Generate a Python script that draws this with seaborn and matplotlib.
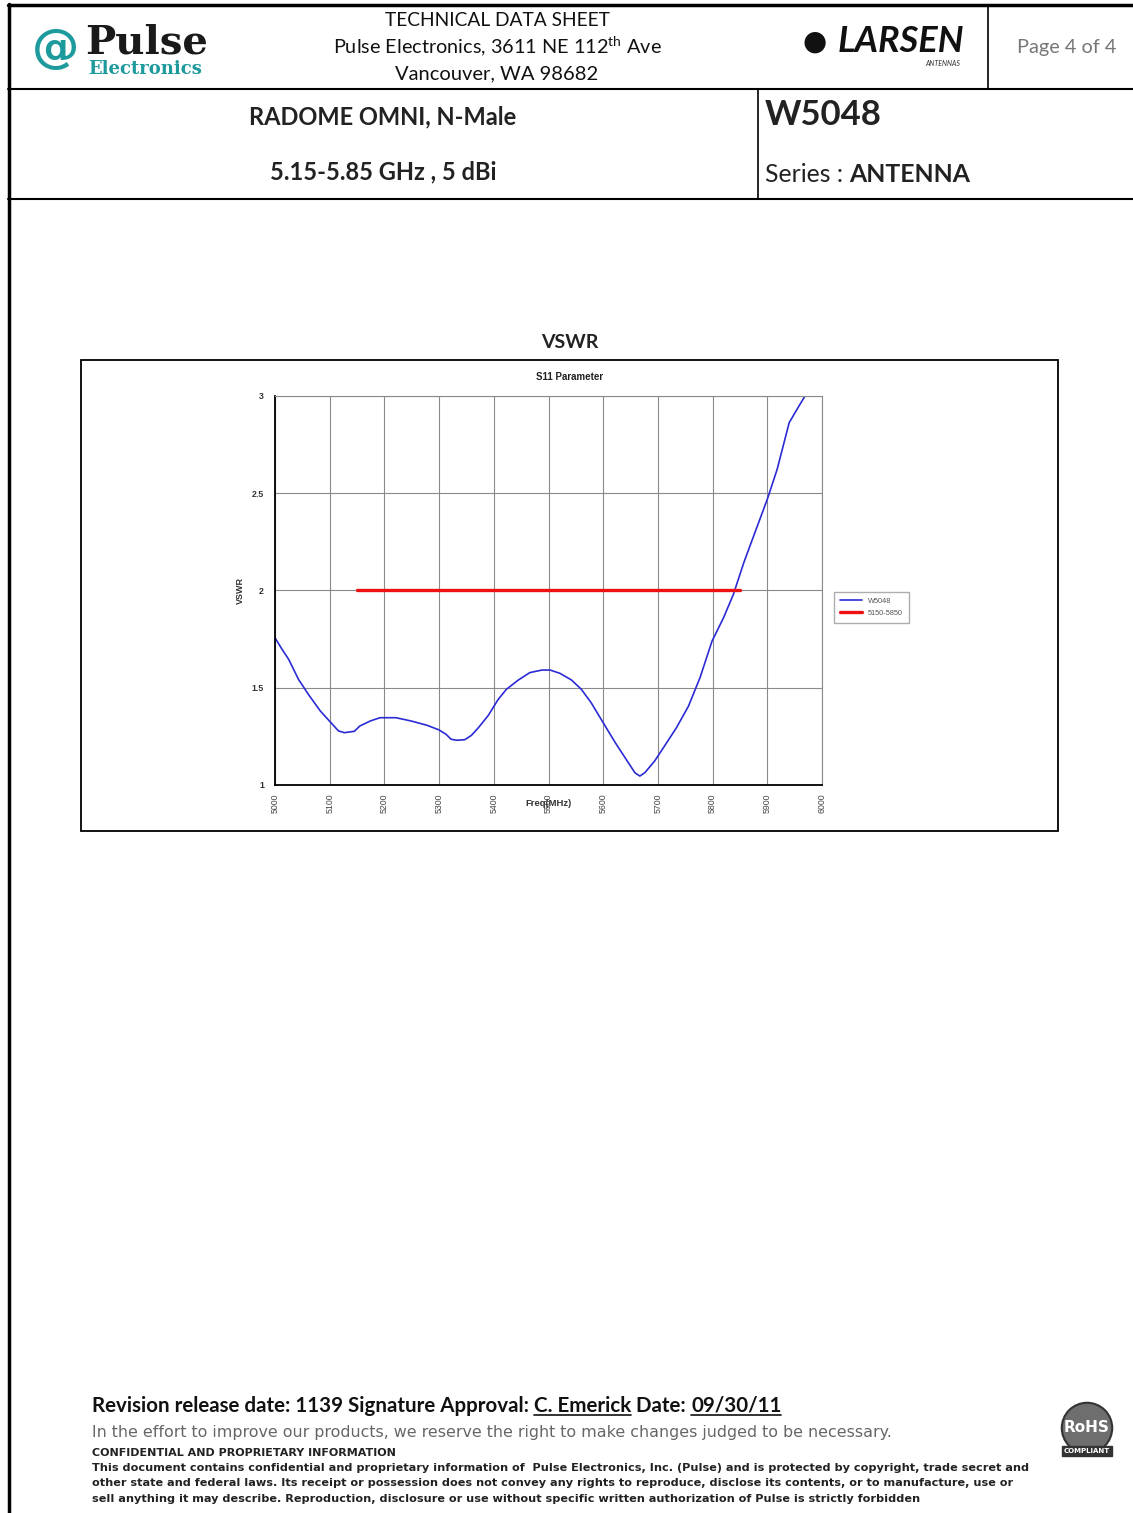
import matplotlib
matplotlib.use("Agg")
import matplotlib.pyplot as plt
import seaborn as sns
import numpy as np
import pandas as pd
from matplotlib.lines import Line2D
from matplotlib.patches import Rectangle

# ---------------- data ----------------
freq = [5000, 5011, 5025, 5043, 5061, 5083, 5105, 5116, 5127, 5145, 5155, 5174,
        5192, 5221, 5249, 5278, 5300, 5313, 5322, 5333, 5347, 5359, 5372, 5390,
        5408, 5423, 5445, 5466, 5488, 5503, 5521, 5542, 5560, 5578, 5600, 5622,
        5644, 5658, 5667, 5676, 5694, 5712, 5734, 5756, 5777, 5799, 5820, 5838,
        5857, 5875, 5900, 5918, 5940, 5958, 5969]
vswr = [1.757, 1.706, 1.646, 1.543, 1.466, 1.380, 1.312, 1.278, 1.269, 1.276, 1.303, 1.329,
        1.346, 1.346, 1.329, 1.307, 1.283, 1.260, 1.235, 1.230, 1.233, 1.255, 1.295, 1.358,
        1.440, 1.492, 1.540, 1.578, 1.591, 1.591, 1.574, 1.540, 1.492, 1.423, 1.320, 1.218,
        1.123, 1.063, 1.046, 1.063, 1.123, 1.200, 1.295, 1.406, 1.552, 1.740, 1.860, 1.980,
        2.143, 2.280, 2.469, 2.623, 2.863, 2.949, 3.0]
spec_freq = [5150, 5850]
spec_vswr = [2.0, 2.0]
series_names = ["W5048", "5150-5850"]
x_ticks = [5000, 5100, 5200, 5300, 5400, 5500, 5600, 5700, 5800, 5900, 6000]
y_ticks = [1, 1.5, 2, 2.5, 3]
y_ticklabels = ["1", "1.5", "2", "2.5", "3"]

# ---------------- style ----------------
sns.set_style("white")
plt.rcParams["font.family"] = ["Lato", "DejaVu Sans"]
plt.rcParams["mathtext.fontset"] = "custom"
plt.rcParams["mathtext.rm"] = "Lato"

W, H = 1133, 1513
fig = plt.figure(figsize=(W / 100, H / 100), dpi=100)
fig.patch.set_facecolor("white")
renderer = fig.canvas.get_renderer()


def fx(x):
    return x / W


def fy(y):
    return 1 - y / H


def hline(x0, x1, y, lw=1.5, c="black"):
    fig.add_artist(Line2D([fx(x0), fx(x1)], [fy(y), fy(y)], transform=fig.transFigure, lw=lw, color=c))


def vline(x, y0, y1, lw=1.5, c="black"):
    fig.add_artist(Line2D([fx(x), fx(x)], [fy(y0), fy(y1)], transform=fig.transFigure, lw=lw, color=c))


def seq_text(x, y, parts, va="baseline", **kw):
    xd = x
    for s, ul, extra in parts:
        opts = dict(kw)
        opts.update(extra)
        t = fig.text(fx(xd), fy(y), s, ha="left", va=va, **opts)
        bb = t.get_window_extent(renderer)
        if ul:
            hline(bb.x0, bb.x1, y + 3, lw=1.2, c="#111")
        xd = bb.x1


# ---------------- page frame / header ----------------
vline(9, 4, 1513, lw=2.5)
hline(8, 1133, 5, lw=2.5)
hline(8, 1133, 89, lw=1.5)
hline(8, 1133, 199, lw=1.5)
vline(988, 5, 89, lw=1.2)
vline(758, 89, 199, lw=1.2)

# Pulse logo
fig.text(fx(56), fy(50), "@", fontsize=34, color="#1c9a9c", fontweight="bold",
         ha="center", va="center", family="DejaVu Sans")
fig.text(fx(85), fy(42), "Pulse", fontsize=29, color="#1a1a1a", fontweight="bold",
         ha="left", va="center", family="DejaVu Serif")
fig.text(fx(88), fy(69), "Electronics", fontsize=13, color="#1c9a9c", fontweight="bold",
         ha="left", va="center", family="DejaVu Serif")

fig.text(fx(497), fy(20), "TECHNICAL DATA SHEET", fontsize=13.8, ha="center", va="center", color="#111")
fig.text(fx(497), fy(47), r"Pulse Electronics, 3611 NE 112$^{\mathrm{th}}$ Ave", fontsize=14.3,
         ha="center", va="center", color="#111")
fig.text(fx(497), fy(74), "Vancouver, WA 98682", fontsize=14.5, ha="center", va="center", color="#111")

# Larsen logo
fig.text(fx(815), fy(42), "●", fontsize=20, ha="center", va="center", color="#111", family="DejaVu Sans")
fig.text(fx(838), fy(42), "LARSEN", fontsize=26, ha="left", va="center", color="#111",
         fontweight="bold", style="italic")
fig.text(fx(960), fy(63), "ANTENNAS", fontsize=5, ha="right", va="center", color="#333", style="italic")

fig.text(fx(1067), fy(47), "Page 4 of 4", fontsize=14.3, ha="center", va="center", color="#777")

fig.text(fx(383), fy(117), "RADOME OMNI, N-Male", fontsize=17, ha="center", va="center", color="#222",
         fontweight="bold")
fig.text(fx(383), fy(172), "5.15-5.85 GHz , 5 dBi", fontsize=17, ha="center", va="center", color="#222",
         fontweight="bold")
fig.text(fx(765), fy(115), "W5048", fontsize=25, ha="left", va="center", color="#222", fontweight="bold")
seq_text(765, 182, [("Series : ", False, {}), ("ANTENNA", False, {"fontweight": "bold"})],
         fontsize=17.8, color="#222")

# ---------------- chart ----------------
fig.text(fx(570), fy(343), "VSWR", fontsize=14, ha="center", va="center", fontweight="bold", color="#222")
fig.add_artist(Rectangle((fx(81), fy(831)), (1058 - 81) / W, (831 - 360) / H,
                         transform=fig.transFigure, fill=False, lw=1.3, ec="black"))
fig.text(fx(570), fy(377), "S11 Parameter", fontsize=7, ha="center", va="center", fontweight="bold",
         family="Liberation Sans", color="#222")

ax = fig.add_axes([fx(275), fy(785), (822 - 275) / W, (785 - 396) / H])
sns.lineplot(x=freq, y=vswr, ax=ax, color="#2b2bd6", lw=1.2, label=series_names[0], estimator=None)
sns.lineplot(x=spec_freq, y=spec_vswr, ax=ax, color="#ee1111", lw=2.4, label=series_names[1], estimator=None)

ax.set_xlim(5000, 6000)
ax.set_ylim(1, 3)
ax.set_xticks(x_ticks)
ax.set_xticklabels([str(t) for t in x_ticks], rotation=90, fontsize=6.3, family="Liberation Sans", color="#444")
ax.set_yticks(y_ticks)
ax.set_yticklabels(y_ticklabels, fontsize=6.3, family="Liberation Sans", color="#333", fontweight="bold")
ax.tick_params(axis="x", length=0, pad=6)
ax.tick_params(axis="y", length=0, pad=8)
ax.grid(True, color="#8a8a8a", lw=0.8)
ax.set_axisbelow(True)
for s in ["left", "bottom"]:
    ax.spines[s].set_color("black")
    ax.spines[s].set_linewidth(1.3)
for s in ["top", "right"]:
    ax.spines[s].set_color("#8a8a8a")
    ax.spines[s].set_linewidth(0.8)
ax.set_xlabel("Freq(MHz)", fontsize=6.8, fontweight="bold", family="Liberation Sans", labelpad=-10, color="#333")
ax.set_ylabel("VSWR", fontsize=6.5, fontweight="bold", family="Liberation Sans", labelpad=5, color="#333")
leg = ax.legend(loc="center left", bbox_to_anchor=(1.015, 0.457), fontsize=5.3, frameon=True,
                fancybox=False, edgecolor="#999", handlelength=3, borderpad=0.8, labelspacing=0.7)
for t in leg.get_texts():
    t.set_family("Liberation Sans")
    t.set_color("#555")

# ---------------- footer ----------------
seq_text(92, 1412, [("Revision release date: 1139 Signature Approval: ", False, {}), ("C. Emerick", True, {}),
                    (" Date: ", False, {}), ("09/30/11", True, {})],
         fontsize=14.8, fontweight="bold", color="#111")

fig.text(fx(92), fy(1433), "In the effort to improve our products, we reserve the right to make changes judged to be necessary.",
         fontsize=11.4, family="DejaVu Sans", color="#666", ha="left", va="center")
fig.text(fx(92), fy(1453), "CONFIDENTIAL AND PROPRIETARY INFORMATION", fontsize=8, family="DejaVu Sans",
         fontweight="bold", color="#222", ha="left", va="center")
body = ["This document contains confidential and proprietary information of  Pulse Electronics, Inc. (Pulse) and is protected by copyright, trade secret and",
        "other state and federal laws. Its receipt or possession does not convey any rights to reproduce, disclose its contents, or to manufacture, use or",
        "sell anything it may describe. Reproduction, disclosure or use without specific written authorization of Pulse is strictly forbidden"]
for i, line in enumerate(body):
    fig.text(fx(92), fy(1468 + 15.5 * i), line, fontsize=8.1, family="DejaVu Sans", fontweight="bold",
             color="#222", ha="left", va="center")

# RoHS badge
fig.text(fx(1087), fy(1428), "RoHS", fontsize=11, fontweight="bold", color="white", ha="center", va="center",
         family="DejaVu Sans",
         bbox=dict(boxstyle="circle,pad=0.15", fc="#6e6e6e", ec="#333", lw=1.5))
fig.text(fx(1087), fy(1451), "COMPLIANT", fontsize=5, fontweight="bold", color="white", ha="center", va="center",
         family="DejaVu Sans", bbox=dict(boxstyle="square,pad=0.3", fc="#333", ec="#333"))

fig.savefig("out.png", dpi=100, facecolor="white")
